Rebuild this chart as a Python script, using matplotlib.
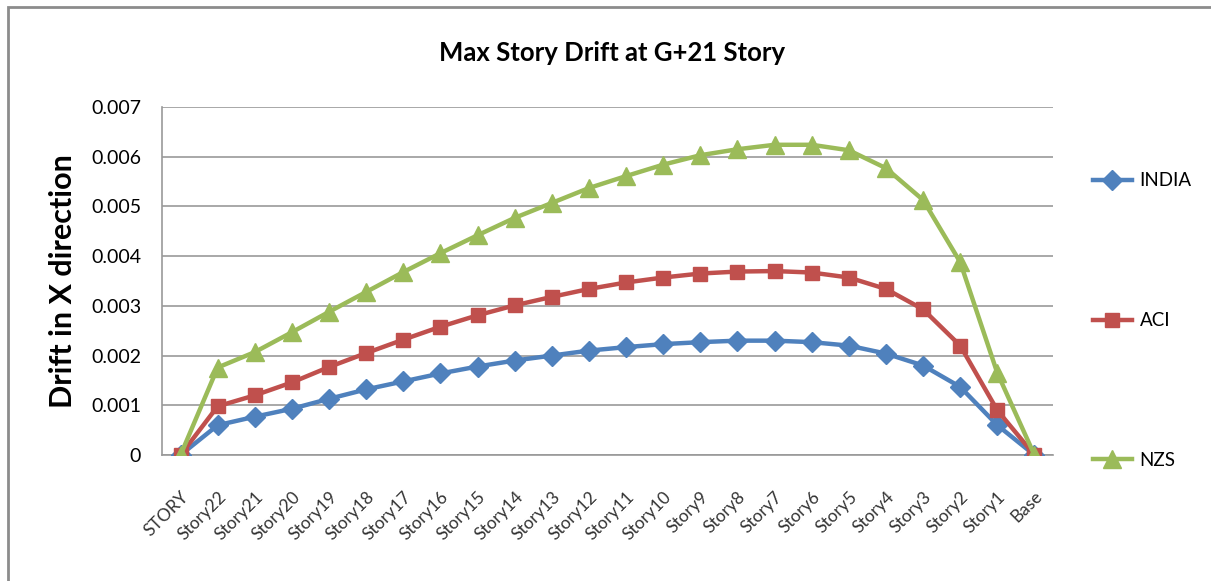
import numpy as np
import matplotlib
matplotlib.use("Agg")
from matplotlib import pyplot as plt
from matplotlib.patches import Rectangle

stories = ["STORY"] + [f"Story{i}" for i in range(22, 0, -1)] + ["Base"]

india = [0, 0.00060, 0.00077, 0.00093, 0.00113, 0.00132, 0.00148, 0.00164, 0.00178,
         0.00190, 0.00200, 0.00210, 0.00217, 0.00223, 0.00227, 0.00230, 0.00230,
         0.00227, 0.00220, 0.00204, 0.00180, 0.00137, 0.00060, 0]
aci = [0, 0.00098, 0.00120, 0.00146, 0.00177, 0.00205, 0.00232, 0.00258, 0.00281,
       0.00301, 0.00318, 0.00334, 0.00347, 0.00357, 0.00365, 0.00369, 0.00370,
       0.00367, 0.00357, 0.00334, 0.00293, 0.00220, 0.00090, 0]
nzs = [0, 0.00176, 0.00207, 0.00247, 0.00288, 0.00328, 0.00368, 0.00406, 0.00442,
       0.00477, 0.00507, 0.00537, 0.00561, 0.00584, 0.00603, 0.00615, 0.00624,
       0.00624, 0.00613, 0.00577, 0.00513, 0.00388, 0.00165, 0]

plt.rcParams['font.family'] = ['Lato', 'DejaVu Sans']

fig = plt.figure(figsize=(12.11, 5.81), dpi=100)
# outer chart border (left + top only visible)
fig.patches.append(Rectangle((8 / 1211, -0.1), 1.2, 1 - 7 / 581 + 0.1,
                             transform=fig.transFigure, fill=False,
                             edgecolor="#8c8c8c", linewidth=2))

ax = fig.add_axes([162 / 1211, 1 - 455 / 581, (1053 - 162) / 1211, (455 - 107) / 581])
x = np.arange(len(stories))

ax.plot(x, india, color="#4F81BD", lw=3.2, marker="D", ms=10.5, label="INDIA", zorder=3)
ax.plot(x, aci, color="#C0504D", lw=3.2, marker="s", ms=10.5, label="ACI", zorder=4)
ax.plot(x, nzs, color="#9BBB59", lw=3.2, marker="^", ms=12.5, label="NZS", zorder=5)

ax.set_ylim(0, 0.007)
ax.set_yticks(np.arange(0, 0.0071, 0.001))
ax.set_yticklabels(["0", "0.001", "0.002", "0.003", "0.004", "0.005", "0.006", "0.007"])
ax.yaxis.grid(True, color="#999999", lw=1.2)
ax.set_axisbelow(True)
for s in ["top", "right"]:
    ax.spines[s].set_visible(False)
ax.spines["left"].set_color("#999999")
ax.spines["bottom"].set_color("#999999")
ax.spines["left"].set_linewidth(1.2)
ax.spines["bottom"].set_linewidth(1.2)
ax.tick_params(axis="y", length=0, labelsize=14, pad=15)
ax.tick_params(axis="x", length=0, labelsize=12.5, pad=24)
ax.set_xticks(x)
ax.set_xticklabels(stories, rotation=45, ha="right", rotation_mode="anchor", color="#333333")
ax.set_xlim(-0.5, len(stories) - 0.5)

ax.set_ylabel("Drift in X direction", fontsize=22, fontweight="bold", labelpad=10)
fig.text(612 / 1211, 1 - 53 / 581, "Max Story Drift at G+21 Story", ha="center", va="center",
         fontsize=18.5, fontweight="bold")

ax.legend(loc="upper left", bbox_to_anchor=(1.036, 0.834), frameon=False, fontsize=13.5,
          labelspacing=6.55, handlelength=2.1, handletextpad=0.4, borderaxespad=0)

fig.savefig("out.png", dpi=100)
